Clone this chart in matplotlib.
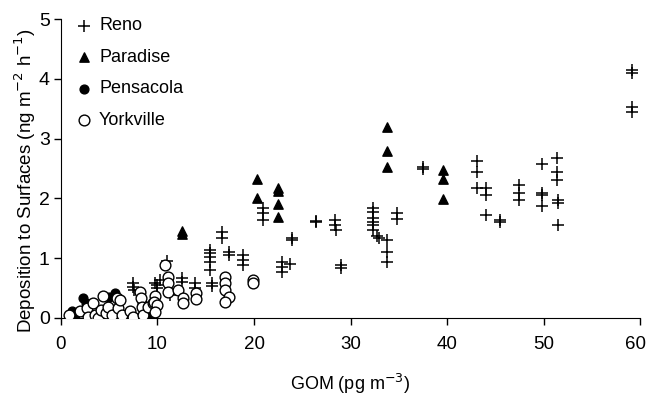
import numpy as np
import matplotlib
matplotlib.use("Agg")
import matplotlib.pyplot as plt
import matplotlib.transforms as mtrans

plt.rcParams['font.family'] = ['Liberation Sans', 'DejaVu Sans']

# Reno (+)
reno_x = [59.2, 59.2, 59.2, 59.2,
          51.4, 51.4, 51.4, 51.5, 51.5, 51.5,
          49.8, 49.8, 49.8, 49.8,
          47.4, 47.4, 47.4,
          45.5, 45.5,
          44.0, 44.0, 44.0,
          43.1, 43.1, 43.1,
          37.5, 37.5,
          34.8, 34.8,
          33.8, 33.8, 33.8,
          32.7, 32.9,
          32.3, 32.3, 32.3, 32.3, 32.3, 32.3,
          29.0, 29.0,
          28.4, 28.4, 28.5,
          26.4, 26.4,
          23.9, 23.9,
          22.9, 22.9, 22.9, 23.7,
          20.9, 20.9, 20.9,
          18.9, 18.9, 18.9,
          17.4, 17.4,
          16.7, 16.7,
          15.4, 15.4, 15.4, 15.4, 15.4,
          15.6, 15.6,
          13.9, 13.9,
          12.5, 12.5,
          11.3, 11.3,
          11.0,
          10.0, 10.0, 10.3,
          9.75,
          7.5, 7.5, 7.6,
          6.4, 9.4, 3.5]
reno_y = [4.15, 4.10, 3.53, 3.44,
          2.68, 2.44, 2.31, 1.97, 1.92, 1.56,
          2.58, 2.09, 2.06, 1.87,
          2.22, 2.09, 1.97,
          1.64, 1.60,
          2.17, 2.06, 1.72,
          2.63, 2.44, 2.17,
          2.53, 2.49,
          1.76, 1.66,
          1.30, 1.10, 0.94,
          1.37, 1.34,
          1.84, 1.77, 1.67, 1.61, 1.56, 1.47,
          0.88, 0.84,
          1.64, 1.56, 1.47,
          1.62, 1.60,
          1.34, 1.31,
          0.94, 0.85, 0.77, 0.90,
          1.84, 1.76, 1.64,
          1.05, 0.97, 0.89,
          1.10, 1.05,
          1.44, 1.34,
          1.14, 1.09, 1.02, 0.94, 0.80,
          0.59, 0.53,
          0.59, 0.50,
          0.67, 0.60,
          0.43, 0.38,
          0.95,
          0.55, 0.50, 0.63,
          0.58,
          0.58, 0.52, 0.47,
          0.0, 0.02, 0.0]

# Paradise (filled triangles)
paradise_x = [12.5, 12.5, 20.3, 20.3, 22.5, 22.5, 22.5, 22.5,
              33.8, 33.8, 33.8, 39.6, 39.6, 39.6]
paradise_y = [1.45, 1.40, 2.32, 2.00, 2.18, 2.12, 1.91, 1.69,
              3.20, 2.79, 2.52, 2.47, 2.32, 1.99]

# Pensacola (filled circles)
pensacola_x = [1.2, 1.5, 2.3, 2.6, 4.0, 5.0, 5.6, 6.0, 8.4, 9.2]
pensacola_y = [0.12, 0.05, 0.33, 0.25, 0.10, 0.35, 0.42, 0.30, 0.25, 0.08]

# Yorkville (open circles)
yorkville_x = [0.8, 2.0, 2.7, 2.8, 3.35, 3.5, 3.8, 4.2, 4.4, 4.7, 4.9,
               5.25, 5.8, 5.95, 6.1, 6.3, 7.15, 7.5, 8.2, 8.3, 8.35, 8.5,
               9.05, 9.55, 9.75, 9.6, 10.0, 9.7,
               10.8, 11.05, 11.1, 11.1,
               12.1, 12.6, 12.6, 14.0, 14.0,
               17.0, 17.0, 17.0, 17.4, 17.0,
               19.9, 19.9]
yorkville_y = [0.05, 0.11, 0.17, 0.02, 0.25, 0.05, 0.0, 0.13, 0.36, 0.08, 0.19,
               0.05, 0.33, 0.16, 0.30, 0.05, 0.11, 0.02, 0.44, 0.33, 0.19, 0.05,
               0.19, 0.25, 0.36, 0.27, 0.22, 0.10,
               0.89, 0.69, 0.58, 0.43,
               0.47, 0.33, 0.25, 0.42, 0.32,
               0.69, 0.59, 0.47, 0.35, 0.27,
               0.64, 0.59]

fig = plt.figure(figsize=(6.48, 3.97), dpi=100)
ax = fig.add_axes([0.094, 0.199, 0.894, 0.753])

ax.scatter(reno_x, reno_y, marker='+', s=70, c='black', linewidths=1.1,
           label='Reno', zorder=2)
ax.scatter(paradise_x, paradise_y, marker='^', s=45, c='black',
           label='Paradise', zorder=3)
ax.scatter(pensacola_x, pensacola_y, marker='o', s=40, c='black',
           label='Pensacola', zorder=3)
ax.scatter(yorkville_x, yorkville_y, marker='o', s=60, facecolors='white',
           edgecolors='black', linewidths=1.0, label='Yorkville', zorder=4)

ax.set_xlim(0, 60)
ax.set_ylim(0, 5)
ax.set_xticks(range(0, 61, 10))
ax.set_yticks(range(0, 6))
ax.spines['top'].set_visible(False)
ax.spines['right'].set_visible(False)
ax.tick_params(direction='out', length=5, width=1, labelsize=14)
ax.tick_params(axis='x', pad=8, labelsize=13.5)
ax.tick_params(axis='y', pad=3)
ax.set_xlabel('GOM (pg m$^{-3}$)', fontsize=13)
ax.set_ylabel('Deposition to Surfaces (ng m$^{-2}$ h$^{-1}$)', fontsize=13.5)
ax.xaxis.set_label_coords(0.5, -0.18)
ax.yaxis.set_label_coords(-0.040, 0.46)

# keep the last x tick label inside the canvas
last = ax.get_xticklabels()[-1]
last.set_transform(last.get_transform() +
                   mtrans.ScaledTranslation(-5 / 100, 0, fig.dpi_scale_trans))

ax.legend(loc='upper left', bbox_to_anchor=(-0.012, 1.06), frameon=False,
          fontsize=13, handletextpad=0.1, labelspacing=0.8,
          handlelength=1.5, scatterpoints=1)

fig.savefig('out.png', dpi=100)
